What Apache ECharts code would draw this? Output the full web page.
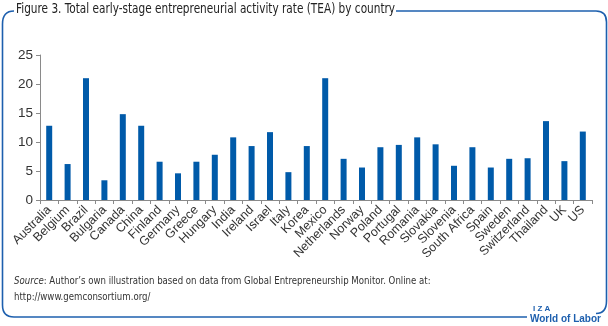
<!DOCTYPE html>
<html><head><meta charset="utf-8">
<script src="https://cdn.jsdelivr.net/npm/echarts@6/dist/echarts.min.js"></script>
<style>html,body{margin:0;padding:0;background:#fff}#c{width:608px;height:326px}</style>
</head><body><div id="c"></div>
<script>
const categories = ["Australia","Belgium","Brazil","Bulgaria","Canada","China","Finland","Germany","Greece","Hungary","India","Ireland","Israel","Italy","Korea","Mexico","Netherlands","Norway","Poland","Portugal","Romania","Slovakia","Slovenia","South Africa","Spain","Sweden","Switzerland","Thailand","UK","US"];
const teaValues = [12.8,6.2,21.0,3.4,14.8,12.8,6.6,4.6,6.6,7.8,10.8,9.3,11.7,4.8,9.3,21.0,7.1,5.6,9.1,9.5,10.8,9.6,5.9,9.1,5.6,7.1,7.2,13.6,6.7,11.8];
const yTicks = [0,5,10,15,20,25];
const titleText = "Figure 3. Total early-stage entrepreneurial activity rate (TEA) by country";
const sourceLine1 = "Author\u2019s own illustration based on data from Global Entrepreneurship Monitor. Online at:";
const sourceLine2 = "http://www.gemconsortium.org/";

const frameColor = '#1d5fae';
const narrow = '"Liberation Sans Narrow","DejaVu Sans Condensed",sans-serif';
const sans = '"Liberation Sans", Arial, sans-serif';
const frameStyle = {stroke:frameColor,lineWidth:1.6,fill:null};
const chart = echarts.init(document.getElementById('c'), null, {renderer:'canvas'});
chart.setOption({
  animation:false,
  grid:{left:40,right:16,top:55,bottom:126,containLabel:false},
  xAxis:{type:'category',data:categories,boundaryGap:true,
    axisLine:{lineStyle:{color:'#8a8a8a',width:1}},
    axisTick:{show:true,length:4,inside:false,lineStyle:{color:'#8a8a8a'}},
    axisLabel:{interval:0,rotate:45,fontSize:12.5,color:'#333',margin:8,fontFamily:sans}},
  yAxis:{type:'value',min:yTicks[0],max:yTicks[yTicks.length-1],interval:5,
    axisLine:{show:true,lineStyle:{color:'#8a8a8a',width:1}},
    axisTick:{show:true,length:4,lineStyle:{color:'#8a8a8a'}},
    splitLine:{show:false},
    axisLabel:{fontSize:13.5,color:'#333',margin:7,fontFamily:sans}},
  series:[{type:'bar',data:teaValues,barWidth:6,itemStyle:{color:'#005aa9'}}],
  graphic:[
    {type:'text',left:16,top:3,scaleX:0.88,style:{text:titleText,fontSize:13.3,fill:'#222',fontFamily:narrow}},
    {type:'polyline',shape:{points:[[396,11],[596,11]]},style:frameStyle},
    {type:'bezierCurve',shape:{x1:596,y1:11,cpx1:606.5,cpy1:11,x2:606.5,y2:22},style:frameStyle},
    {type:'polyline',shape:{points:[[606.5,22],[606.5,301]]},style:frameStyle},
    {type:'bezierCurve',shape:{x1:606.5,y1:301,cpx1:606.5,cpy1:313.5,x2:596,y2:313.5},style:frameStyle},
    {type:'bezierCurve',shape:{x1:14,y1:11,cpx1:2.5,cpy1:11,x2:2.5,y2:24},style:frameStyle},
    {type:'polyline',shape:{points:[[2.5,24],[2.5,305]]},style:frameStyle},
    {type:'bezierCurve',shape:{x1:2.5,y1:305,cpx1:2.5,cpy1:317,x2:14,y2:317},style:frameStyle},
    {type:'polyline',shape:{points:[[14,317],[527,317]]},style:frameStyle},
    {type:'text',left:14,top:273,scaleX:0.91,style:{text:'{i|Source}: '+sourceLine1+'\n'+sourceLine2,fontSize:10.5,lineHeight:16,fill:'#333',fontFamily:narrow,
      rich:{i:{fontStyle:'italic',fontSize:10.5,fill:'#333',fontFamily:narrow}}}},
    {type:'text',left:533,top:305,style:{text:'I Z A',fontSize:8,fontWeight:'bold',fill:frameColor,fontFamily:sans}},
    {type:'text',left:530,top:314,style:{text:'World of Labor',fontSize:10,fontWeight:'bold',fill:frameColor,fontFamily:sans}}
  ]
});
</script></body></html>
